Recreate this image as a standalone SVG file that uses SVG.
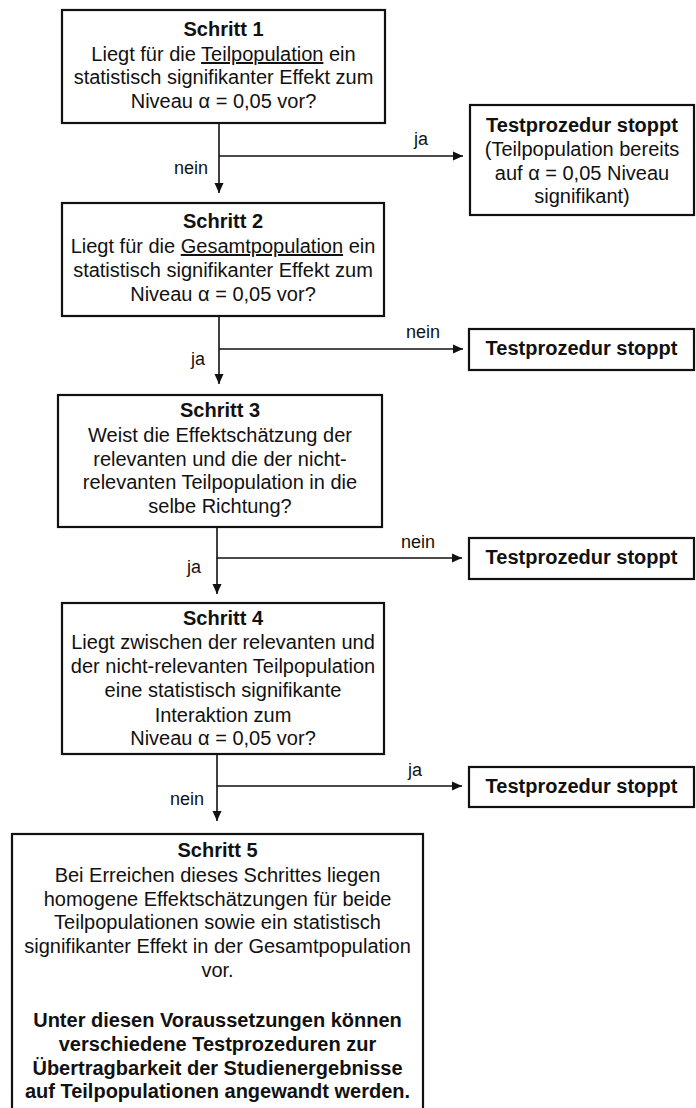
<svg xmlns="http://www.w3.org/2000/svg" width="696" height="1108" viewBox="0 0 696 1108">
<style>
.box{fill:#fff;stroke:#111;stroke-width:2.2}
.t{font-family:"Liberation Sans",Arial,sans-serif;font-size:20px;fill:#111;text-anchor:middle}
.b{font-weight:bold}
.l{font-family:"Liberation Sans",Arial,sans-serif;font-size:18px;fill:#111;text-anchor:middle}
.c{fill:none;stroke:#111;stroke-width:1.6}
</style>
<defs>
<marker id="ah" viewBox="0 0 10 10" refX="10" refY="5" markerWidth="10" markerHeight="10" markerUnits="userSpaceOnUse" orient="auto">
<path d="M0,0.5 L10,5 L0,9.5 Z" fill="#111"/>
</marker>
</defs>
<rect width="696" height="1108" fill="#fff"/>
<g id="connectors">
<line class="c" x1="219" y1="123" x2="219" y2="193" marker-end="url(#ah)"/>
<line class="c" x1="219" y1="156" x2="463" y2="156" marker-end="url(#ah)"/>
<text class="l" x="191" y="174">nein</text>
<text class="l" x="421" y="145">ja</text>
<line class="c" x1="219" y1="316" x2="219" y2="384" marker-end="url(#ah)"/>
<line class="c" x1="219" y1="349" x2="463" y2="349" marker-end="url(#ah)"/>
<text class="l" x="198" y="365">ja</text>
<text class="l" x="423" y="338">nein</text>
<line class="c" x1="217" y1="527" x2="217" y2="594" marker-end="url(#ah)"/>
<line class="c" x1="217" y1="558" x2="462" y2="558" marker-end="url(#ah)"/>
<text class="l" x="194" y="573">ja</text>
<text class="l" x="418" y="548">nein</text>
<line class="c" x1="217" y1="754" x2="217" y2="821" marker-end="url(#ah)"/>
<line class="c" x1="217" y1="786" x2="462" y2="786" marker-end="url(#ah)"/>
<text class="l" x="187" y="805">nein</text>
<text class="l" x="415" y="776">ja</text>
</g>
<g id="schritt1">
<rect class="box" x="62" y="10" width="323" height="113"/>
<text class="t b" x="223.5" y="36">Schritt 1</text>
<text class="t" x="223.5" y="61">Liegt für die <tspan text-decoration="underline">Teilpopulation</tspan> ein</text>
<text class="t" x="223.5" y="84">statistisch signifikanter Effekt zum</text>
<text class="t" x="223.5" y="108">Niveau α = 0,05 vor?</text>
</g>
<g id="stopp1">
<rect class="box" x="470" y="105" width="224" height="110"/>
<text class="t b" x="582" y="132">Testprozedur stoppt</text>
<text class="t" x="582" y="156">(Teilpopulation bereits</text>
<text class="t" x="582" y="180">auf α = 0,05 Niveau</text>
<text class="t" x="582" y="203">signifikant)</text>
</g>
<g id="schritt2">
<rect class="box" x="62" y="203" width="322" height="113"/>
<text class="t b" x="223" y="228">Schritt 2</text>
<text class="t" x="223" y="253">Liegt für die <tspan text-decoration="underline">Gesamtpopulation</tspan> ein</text>
<text class="t" x="223" y="277">statistisch signifikanter Effekt zum</text>
<text class="t" x="223" y="301">Niveau α = 0,05 vor?</text>
</g>
<g id="stopp2">
<rect class="box" x="469" y="329" width="225" height="41"/>
<text class="t b" x="581.5" y="355">Testprozedur stoppt</text>
</g>
<g id="schritt3">
<rect class="box" x="58" y="395" width="324" height="132"/>
<text class="t b" x="220" y="417">Schritt 3</text>
<text class="t" x="220" y="442">Weist die Effektschätzung der</text>
<text class="t" x="220" y="466">relevanten und die der nicht-</text>
<text class="t" x="220" y="489">relevanten Teilpopulation in die</text>
<text class="t" x="220" y="513">selbe Richtung?</text>
</g>
<g id="stopp3">
<rect class="box" x="469" y="538" width="225" height="41"/>
<text class="t b" x="581.5" y="564">Testprozedur stoppt</text>
</g>
<g id="schritt4">
<rect class="box" x="62" y="603" width="322" height="151"/>
<text class="t b" x="223" y="625">Schritt 4</text>
<text class="t" x="223" y="649">Liegt zwischen der relevanten und</text>
<text class="t" x="223" y="673">der nicht-relevanten Teilpopulation</text>
<text class="t" x="223" y="697">eine statistisch signifikante</text>
<text class="t" x="223" y="722">Interaktion zum</text>
<text class="t" x="223" y="745">Niveau α = 0,05 vor?</text>
</g>
<g id="stopp4">
<rect class="box" x="469" y="767" width="225" height="40"/>
<text class="t b" x="581.5" y="793">Testprozedur stoppt</text>
</g>
<g id="schritt5">
<rect class="box" x="12" y="834" width="411" height="290"/>
<text class="t b" x="217.5" y="857">Schritt 5</text>
<text class="t" x="217.5" y="882">Bei Erreichen dieses Schrittes liegen</text>
<text class="t" x="217.5" y="906">homogene Effektschätzungen für beide</text>
<text class="t" x="217.5" y="929">Teilpopulationen sowie ein statistisch</text>
<text class="t" x="217.5" y="953">signifikanter Effekt in der Gesamtpopulation</text>
<text class="t" x="217.5" y="977">vor.</text>
<text class="t b" x="217.5" y="1027">Unter diesen Voraussetzungen können</text>
<text class="t b" x="217.5" y="1051">verschiedene Testprozeduren zur</text>
<text class="t b" x="217.5" y="1075">Übertragbarkeit der Studienergebnisse</text>
<text class="t b" x="217.5" y="1098">auf Teilpopulationen angewandt werden.</text>
</g>
</svg>
